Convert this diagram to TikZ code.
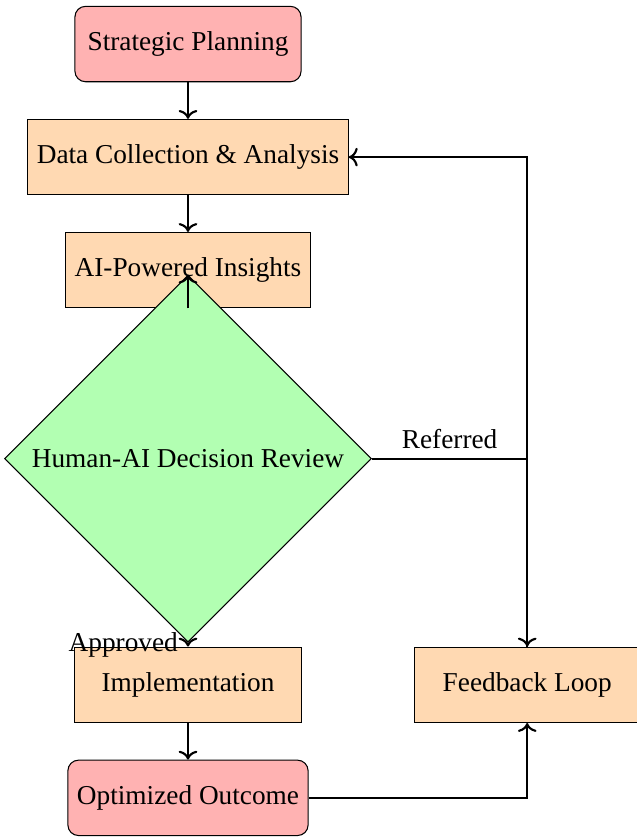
\documentclass[tikz,border=0pt]{standalone}
\usepackage{fontspec}
\setmainfont{Liberation Serif}[Scale=1.03]
\usepackage{tikz}
\usetikzlibrary{arrows.meta,positioning,shapes.geometric}

\begin{document}
\begin{tikzpicture}[
  startstop/.style={draw,rounded corners,fill=red!30,minimum width=3cm,minimum height=1cm},
  process/.style={draw,fill=orange!30,minimum width=3cm,minimum height=1cm},
  decision/.style={draw,diamond,aspect=1,fill=green!30},
  arr/.style={thick,->}]
\useasboundingbox (-2.494,-10.546) rectangle (5.956,0.584);
% main column
\node[startstop] (plan) at (0,0) {Strategic Planning};
\node[process] (data) at (0,-1.5) {Data Collection \& Analysis};
\node[process] (ai) at (0,-3) {AI-Powered Insights};
\node[decision] (review) at (0,-5.5) {Human-AI Decision Review};
\node[process] (impl) at (0,-8.5) {Implementation};
\node[startstop] (outcome) at (0,-10) {Optimized Outcome};
% side branch
\node[process] (loop) at (4.5,-8.5) {Feedback Loop};
% arrows
\draw[arr] (plan) -- (data);
\draw[arr] (data) -- (ai);
\draw[arr] (ai) -- (review);
\draw[arr] (review) -- node[left] {Approved} (impl);
\draw[arr] (review) -| node[near start,above] {Referred} (loop);
\draw[arr] (impl) -- (outcome);
\draw[arr] (outcome) -| (loop);
\draw[arr] (loop) |- (data);
\end{tikzpicture}
\end{document}
